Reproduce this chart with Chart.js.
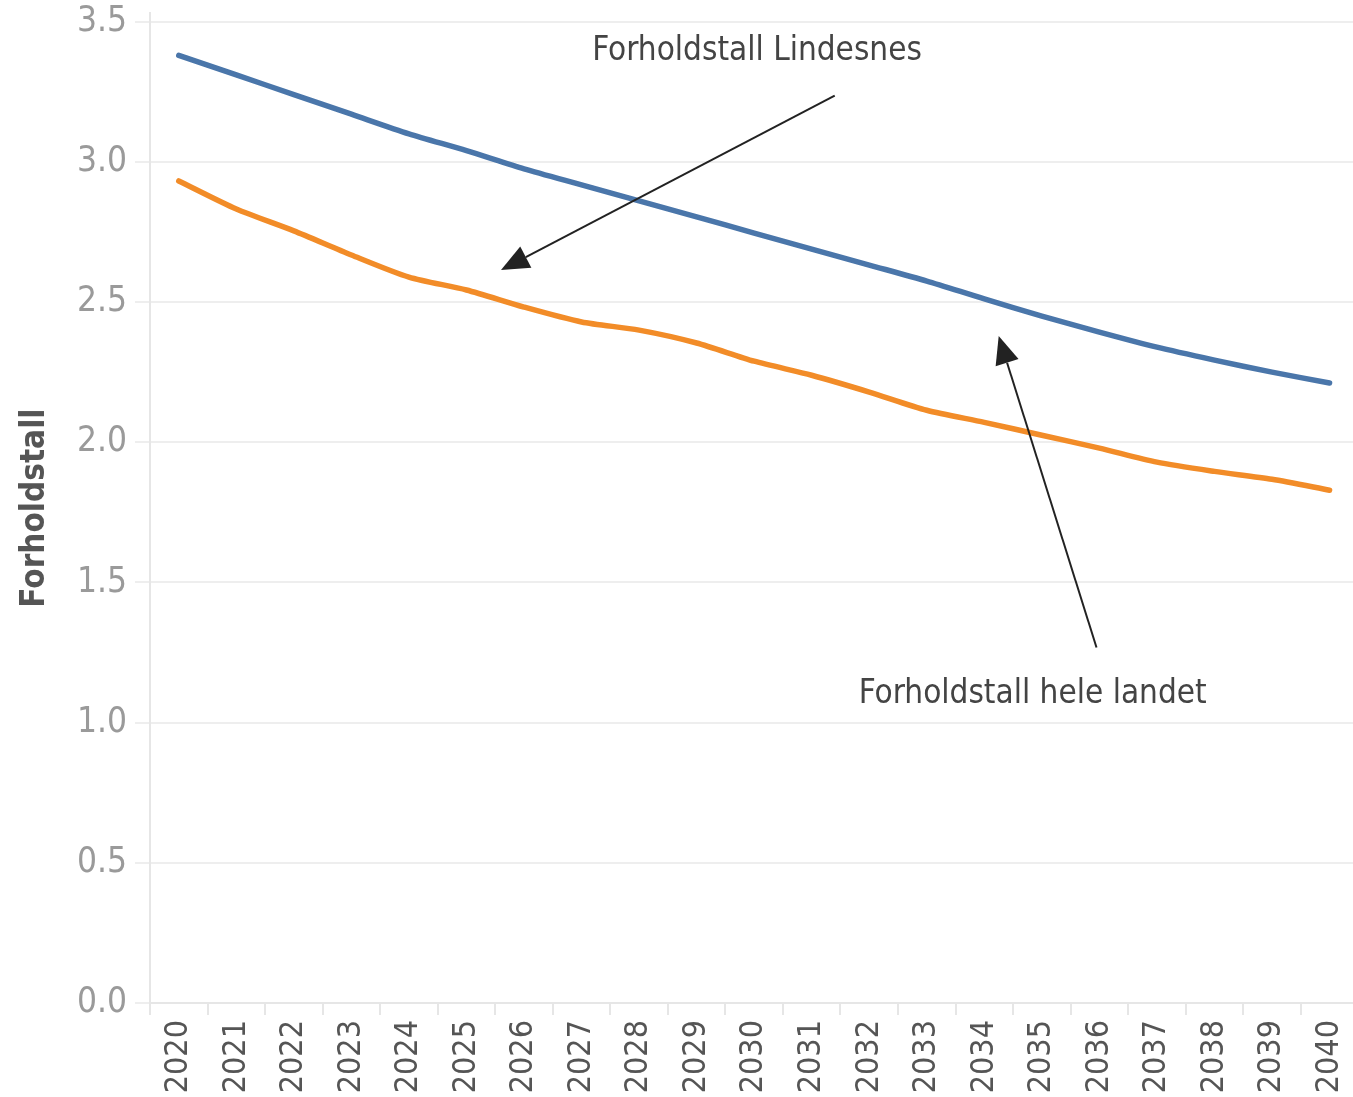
<!DOCTYPE html>
<html>
<head>
<meta charset="utf-8">
<script src="https://cdn.jsdelivr.net/npm/chart.js@4"></script>
<style>
  html, body { margin: 0; padding: 0; background: #fff; overflow: hidden; }
  #wrap { position: absolute; left: 0; top: 0; width: 1373px; height: 1097px; }
</style>
</head>
<body>
<div id="wrap"><canvas id="chart_forholdstall" width="1373" height="1097"></canvas></div>
<script>
var years = ['2020', '2021', '2022', '2023', '2024', '2025', '2026', '2027', '2028', '2029', '2030',
  '2031', '2032', '2033', '2034', '2035', '2036', '2037', '2038', '2039', '2040'];

// blue line
var seriesBlue = [3.38, 3.31, 3.24, 3.17, 3.10, 3.04, 2.975, 2.918, 2.861, 2.804, 2.746,
  2.689, 2.632, 2.575, 2.511, 2.450, 2.393, 2.339, 2.293, 2.250, 2.211];
// orange line
var seriesOrange = [2.932, 2.832, 2.754, 2.668, 2.589, 2.543, 2.482, 2.429, 2.400, 2.354, 2.289,
  2.239, 2.179, 2.114, 2.071, 2.025, 1.979, 1.929, 1.896, 1.868, 1.829];

var yTicks = [0, 0.5, 1, 1.5, 2, 2.5, 3, 3.5];
var yTitle = 'Forholdstall';

// annotation texts, positions in data units (category index, value)
var noteTexts = ['Forholdstall Lindesnes', 'Forholdstall hele landet'];
var notePos = [[10.05, 3.393], [14.84, 1.10]];
// arrows: [fromIndex, fromValue, toIndex, toValue]
var arrows = [[11.4, 3.236, 5.6, 2.614], [15.95, 1.268, 14.25, 2.379]];

var condensed = '"DejaVu Sans Condensed", "DejaVu Sans", sans-serif';

var chart_forholdstall = new Chart(document.getElementById('chart_forholdstall'), {
    type: 'line',
    data: {
        labels: years,
        datasets: [
            {
                label: 'Lindesnes',
                data: seriesBlue,
                borderColor: '#4a76aa',
                borderWidth: 5.5,
                borderCapStyle: 'round',
                pointRadius: 0,
                tension: 0.25
            },
            {
                label: 'Hele landet',
                data: seriesOrange,
                borderColor: '#f28c28',
                borderWidth: 5.5,
                borderCapStyle: 'round',
                pointRadius: 0,
                tension: 0.25
            }
        ]
    },
    options: {
        animation: false,
        responsive: false,
        layout: { padding: { top: 0, right: 2, left: 0, bottom: 0 } },
        plugins: {
            legend: { display: false },
            tooltip: { enabled: false }
        },
        scales: {
            x: {
                type: 'category',
                offset: true,
                afterFit: function (scale) { scale.height = 94; },
                grid: {
                    offset: true,
                    drawOnChartArea: false,
                    drawTicks: true,
                    tickLength: 12,
                    color: '#e6e6e6',
                    lineWidth: 2
                },
                border: { color: '#e6e6e6', width: 2 },
                ticks: {
                    autoSkip: false,
                    minRotation: 90,
                    maxRotation: 90,
                    padding: 5,
                    color: '#555555',
                    font: { family: condensed, size: 32 }
                }
            },
            y: {
                type: 'linear',
                min: 0,
                max: 3.53,
                afterFit: function (scale) { scale.width = 150; },
                afterBuildTicks: function (scale) {
                    scale.ticks = yTicks.map(function (v) { return { value: v }; });
                },
                title: {
                    display: true,
                    text: yTitle,
                    color: '#555555',
                    padding: { top: 16, bottom: 0 },
                    font: { family: condensed, size: 33, weight: 'bold' }
                },
                grid: {
                    color: '#eeeeee',
                    lineWidth: 2,
                    tickLength: 15
                },
                border: { color: '#e6e6e6', width: 2 },
                ticks: {
                    padding: 8,
                    color: '#9a9a9a',
                    font: { family: condensed, size: 35, lineHeight: 0.3 },
                    callback: function (v) { return Number(v).toFixed(1); }
                }
            }
        }
    },
    plugins: [{
        id: 'notes',
        afterDatasetsDraw: function (chart) {
            var ctx = chart.ctx;
            var xs = chart.scales.x, ys = chart.scales.y;
            ctx.save();
            ctx.strokeStyle = '#222';
            ctx.fillStyle = '#222';
            ctx.lineWidth = 2;
            arrows.forEach(function (a) {
                var x1 = xs.getPixelForValue(a[0]), y1 = ys.getPixelForValue(a[1]);
                var x2 = xs.getPixelForValue(a[2]), y2 = ys.getPixelForValue(a[3]);
                var ang = Math.atan2(y2 - y1, x2 - x1);
                var head = 28, half = 12;
                var bx = x2 - head * Math.cos(ang), by = y2 - head * Math.sin(ang);
                ctx.beginPath();
                ctx.moveTo(x1, y1);
                ctx.lineTo(bx, by);
                ctx.stroke();
                ctx.beginPath();
                ctx.moveTo(x2, y2);
                ctx.lineTo(bx + half * Math.sin(ang), by - half * Math.cos(ang));
                ctx.lineTo(bx - half * Math.sin(ang), by + half * Math.cos(ang));
                ctx.closePath();
                ctx.fill();
            });
            ctx.fillStyle = '#444444';
            ctx.font = '33px ' + condensed;
            ctx.textAlign = 'center';
            ctx.textBaseline = 'middle';
            noteTexts.forEach(function (t, i) {
                ctx.fillText(t, xs.getPixelForValue(notePos[i][0]), ys.getPixelForValue(notePos[i][1]));
            });
            ctx.restore();
        }
    }]
});
</script>
</body>
</html>
